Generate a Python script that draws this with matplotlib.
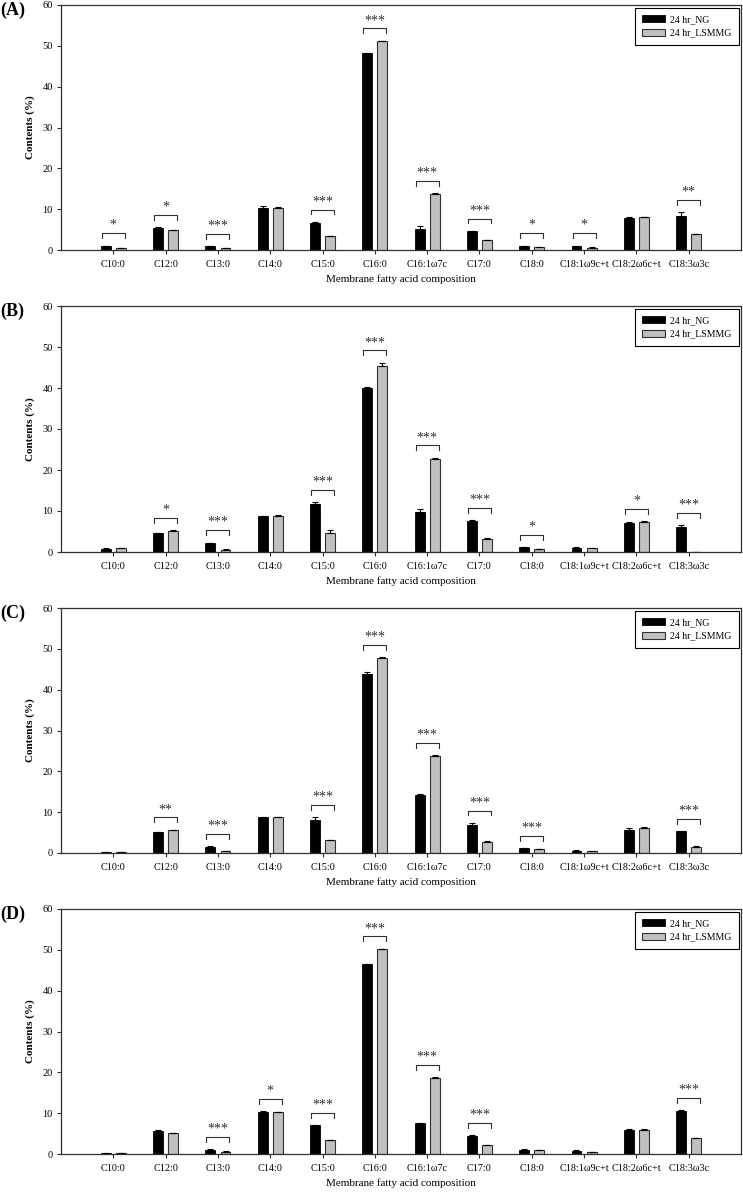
import numpy as np
import matplotlib.pyplot as plt

plt.rcParams['font.family'] = ['Liberation Serif', 'DejaVu Serif']

categories = ['C10:0', 'C12:0', 'C13:0', 'C14:0', 'C15:0', 'C16:0', 'C16:1ω7c',
              'C17:0', 'C18:0', 'C18:1ω9c+t', 'C18:2ω6c+t', 'C18:3ω3c']
series_names = ['24 hr_NG', '24 hr_LSMMG']

# (A)
ng_a = [1.0, 5.4, 0.9, 10.3, 6.7, 48.2, 5.1, 4.6, 1.0, 1.0, 7.9, 8.4]
lsmmg_a = [0.4, 4.9, 0.4, 10.4, 3.5, 51.2, 13.7, 2.4, 0.7, 0.6, 8.0, 3.9]
ng_err_a = [0.1, 0.15, 0.1, 0.4, 0.2, 0.15, 0.9, 0.1, 0.1, 0.1, 0.1, 0.9]
lsmmg_err_a = [0.05, 0.05, 0.05, 0.1, 0.05, 0.1, 0.15, 0.05, 0.05, 0.05, 0.1, 0.1]
sig_a = ['*', '*', '***', '', '***', '***', '***', '***', '*', '*', '', '**']

# (B)
ng_b = [0.8, 4.6, 2.2, 8.8, 11.8, 40.0, 9.8, 7.6, 1.1, 1.0, 7.1, 6.1]
lsmmg_b = [0.9, 5.1, 0.6, 8.9, 4.7, 45.3, 22.8, 3.1, 0.8, 0.9, 7.4, 0.0]
ng_err_b = [0.1, 0.1, 0.1, 0.1, 0.3, 0.2, 0.6, 0.1, 0.1, 0.1, 0.1, 0.5]
lsmmg_err_b = [0.1, 0.2, 0.1, 0.1, 0.7, 0.9, 0.2, 0.2, 0.05, 0.05, 0.1, 0.0]
sig_b = ['', '*', '***', '', '***', '***', '***', '***', '*', '', '*', '***']

# (C)
ng_c = [0.2, 5.1, 1.5, 8.7, 8.1, 43.8, 14.3, 6.9, 1.2, 0.6, 5.7, 5.3]
lsmmg_c = [0.2, 5.6, 0.5, 8.8, 3.2, 47.8, 23.8, 2.8, 1.0, 0.5, 6.1, 1.5]
ng_err_c = [0.05, 0.1, 0.1, 0.1, 0.6, 0.6, 0.2, 0.5, 0.05, 0.1, 0.4, 0.1]
lsmmg_err_c = [0.05, 0.1, 0.05, 0.1, 0.05, 0.15, 0.1, 0.1, 0.05, 0.05, 0.2, 0.1]
sig_c = ['', '**', '***', '', '***', '***', '***', '***', '***', '', '', '***']

# (D)
ng_d = [0.3, 5.6, 1.1, 10.4, 7.0, 46.5, 7.5, 4.5, 1.1, 0.8, 5.8, 10.6]
lsmmg_d = [0.2, 5.1, 0.6, 10.2, 3.5, 50.1, 18.6, 2.2, 0.9, 0.5, 5.8, 3.8]
ng_err_d = [0.05, 0.2, 0.05, 0.1, 0.1, 0.1, 0.2, 0.1, 0.1, 0.1, 0.3, 0.1]
lsmmg_err_d = [0.05, 0.05, 0.05, 0.2, 0.05, 0.2, 0.15, 0.05, 0.1, 0.05, 0.4, 0.2]
sig_d = ['', '', '***', '*', '***', '***', '***', '***', '', '', '', '***']

panels = [
    ('(A)', ng_a, lsmmg_a, ng_err_a, lsmmg_err_a, sig_a),
    ('(B)', ng_b, lsmmg_b, ng_err_b, lsmmg_err_b, sig_b),
    ('(C)', ng_c, lsmmg_c, ng_err_c, lsmmg_err_c, sig_c),
    ('(D)', ng_d, lsmmg_d, ng_err_d, lsmmg_err_d, sig_d),
]

W, H = 743, 1196
fig = plt.figure(figsize=(W / 100, H / 100), dpi=100)

# axes boxes in pixels: (top, bottom)
boxes = [(5, 250), (306, 552), (608, 853), (909, 1154)]
left_px, right_px = 61, 741

line_col = '#303030'
x = np.arange(1, len(categories) + 1)
bw = 0.19
off = 0.145

for (label, ng, ls, ng_err, ls_err, sig), (top, bot) in zip(panels, boxes):
    ax = fig.add_axes([left_px / W, 1 - bot / H, (right_px - left_px) / W, (bot - top) / H])

    ng = np.array(ng)
    ls = np.array(ls)
    ng_err = np.array(ng_err)
    ls_err = np.array(ls_err)

    ax.bar(x - off, ng, bw, color='black', edgecolor='black', lw=0.6, label=series_names[0])
    ax.bar(x + off, ls, bw, color='#c0c0c0', edgecolor=line_col, lw=0.8, label=series_names[1])
    ax.errorbar(x - off, ng, yerr=[np.zeros_like(ng_err), ng_err], fmt='none',
                ecolor='black', elinewidth=0.8, capsize=2.5, capthick=0.8)
    ax.errorbar(x + off, ls, yerr=[np.zeros_like(ls_err), ls_err], fmt='none',
                ecolor='black', elinewidth=0.8, capsize=2.5, capthick=0.8)

    # significance brackets
    for xi, a, b, ea, eb, s in zip(x, ng, ls, ng_err, ls_err, sig):
        if not s:
            continue
        y = max(a + ea, b + eb) + 3.0
        ax.plot([xi - 0.22, xi - 0.22, xi + 0.22, xi + 0.22], [y - 1.2, y, y, y - 1.2],
                color=line_col, lw=0.8)
        ax.text(xi, y + 0.3, s, ha='center', va='bottom', fontsize=10, color=line_col)

    ax.set_xlim(0, 13)
    ax.set_ylim(0, 60)
    ax.set_xticks(x)
    ax.set_xticklabels(categories, fontsize=7.3)
    ax.set_yticks(np.arange(0, 61, 10))
    ax.tick_params(axis='y', labelsize=7.5, length=3, width=0.8, color=line_col, pad=3)
    ax.tick_params(axis='x', length=3, width=0.8, color=line_col, pad=4)
    for sp in ax.spines.values():
        sp.set_color(line_col)
        sp.set_linewidth(0.9)

    ax.set_ylabel('Contents (%)', fontsize=8, fontweight='bold', labelpad=5)
    ax.set_xlabel('Membrane fatty acid composition', fontsize=8, labelpad=4)

    leg = ax.legend(loc='upper right', bbox_to_anchor=(0.997, 0.988), borderaxespad=0,
                    fontsize=7, fancybox=False, edgecolor='black', framealpha=1,
                    handlelength=2.3, handleheight=0.7, handletextpad=0.6,
                    labelspacing=0.45, borderpad=0.75)
    leg.get_frame().set_linewidth(0.8)

    fig.text(0.0, 1 - (top - 3) / H, label, fontsize=13, fontweight='bold', ha='left', va='top')

fig.savefig('out.png', dpi=100)
